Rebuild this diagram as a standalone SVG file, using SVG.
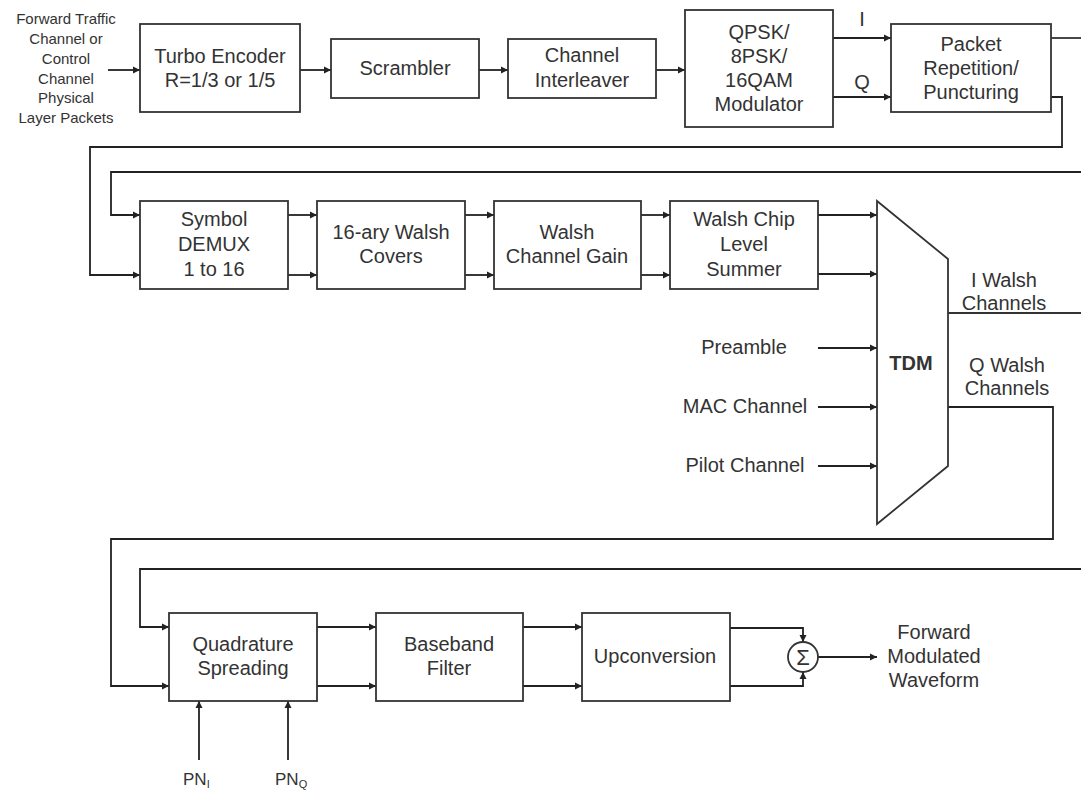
<svg xmlns="http://www.w3.org/2000/svg" width="1081" height="796" viewBox="0 0 1081 796">
<defs>
<marker id="ah" viewBox="0 0 10 10" refX="10" refY="5" markerWidth="7" markerHeight="8" markerUnits="userSpaceOnUse" orient="auto">
<path d="M0,0 L10,5 L0,10 Z" fill="#222"/>
</marker>
<style>
.box{fill:#fff;stroke:#333;stroke-width:1.8}
.ln{fill:none;stroke:#333;stroke-width:1.8}
.ar{fill:none;stroke:#222;stroke-width:1.8;marker-end:url(#ah)}
text{font-family:"Liberation Sans",Arial,sans-serif;fill:#333;text-anchor:middle}
.t{font-size:20px}
.s{font-size:15px}
</style>
</defs>
<rect width="1081" height="796" fill="#fff"/>

<g id="connectors">
<path class="ar" d="M108,70 H140"/>
<path class="ar" d="M300,70 H331"/>
<path class="ar" d="M479,70 H508"/>
<path class="ar" d="M656,70 H685"/>
<path class="ar" d="M833,38 H891"/>
<path class="ar" d="M833,97 H891"/>
<path class="ln" d="M1051,38 H1081"/>
<path class="ar" d="M1051,97 H1062 V147 H90 V275 H140"/>
<path class="ar" d="M1081,172 H111 V215 H140"/>
<path class="ar" d="M288,215 H317"/>
<path class="ar" d="M288,275 H317"/>
<path class="ar" d="M465,215 H494"/>
<path class="ar" d="M465,275 H494"/>
<path class="ar" d="M641,215 H670"/>
<path class="ar" d="M641,275 H670"/>
<path class="ar" d="M818,215 H877"/>
<path class="ar" d="M818,274 H877"/>
<path class="ar" d="M818,348 H877"/>
<path class="ar" d="M818,407 H877"/>
<path class="ar" d="M818,466 H877"/>
<path class="ln" d="M948,313 H1081"/>
<path class="ar" d="M948,407 H1053 V539 H111 V686 H169"/>
<path class="ar" d="M1081,569 H140 V627 H169"/>
<path class="ar" d="M317,627 H376"/>
<path class="ar" d="M317,686 H376"/>
<path class="ar" d="M523,627 H582"/>
<path class="ar" d="M523,686 H582"/>
<path class="ar" d="M730,628 H803 V642"/>
<path class="ar" d="M730,686 H803 V672"/>
<path class="ar" d="M818,657 H877"/>
<path class="ar" d="M199,760 V701"/>
<path class="ar" d="M288,760 V701"/>
</g>

<g id="input-label">
<text class="s" x="66" y="24">Forward Traffic</text>
<text class="s" x="66" y="44">Channel or</text>
<text class="s" x="66" y="64">Control</text>
<text class="s" x="66" y="84">Channel</text>
<text class="s" x="66" y="103">Physical</text>
<text class="s" x="66" y="123">Layer Packets</text>
</g>

<g id="turbo-encoder">
<rect class="box" x="140" y="24" width="160" height="88"/>
<text class="t" x="220" y="63">Turbo Encoder</text>
<text class="t" x="220" y="87">R=1/3 or 1/5</text>
</g>

<g id="scrambler">
<rect class="box" x="331" y="39" width="148" height="59"/>
<text class="t" x="405" y="75">Scrambler</text>
</g>

<g id="channel-interleaver">
<rect class="box" x="508" y="39" width="148" height="59"/>
<text class="t" x="582" y="62">Channel</text>
<text class="t" x="582" y="87">Interleaver</text>
</g>

<g id="modulator">
<rect class="box" x="685" y="10" width="148" height="117"/>
<text class="t" x="759" y="39">QPSK/</text>
<text class="t" x="759" y="63">8PSK/</text>
<text class="t" x="759" y="87">16QAM</text>
<text class="t" x="759" y="111">Modulator</text>
<text class="t" x="862" y="26">I</text>
<text class="t" x="862" y="89">Q</text>
</g>

<g id="packet-repetition">
<rect class="box" x="891" y="24" width="160" height="88"/>
<text class="t" x="971" y="51">Packet</text>
<text class="t" x="971" y="75">Repetition/</text>
<text class="t" x="971" y="99">Puncturing</text>
</g>

<g id="symbol-demux">
<rect class="box" x="140" y="201" width="148" height="88"/>
<text class="t" x="214" y="226">Symbol</text>
<text class="t" x="214" y="251">DEMUX</text>
<text class="t" x="214" y="276">1 to 16</text>
</g>

<g id="walsh-covers">
<rect class="box" x="317" y="201" width="148" height="88"/>
<text class="t" x="391" y="239">16-ary Walsh</text>
<text class="t" x="391" y="263">Covers</text>
</g>

<g id="walsh-gain">
<rect class="box" x="494" y="201" width="147" height="88"/>
<text class="t" x="567" y="239">Walsh</text>
<text class="t" x="567" y="263">Channel Gain</text>
</g>

<g id="walsh-summer">
<rect class="box" x="670" y="201" width="148" height="88"/>
<text class="t" x="744" y="226">Walsh Chip</text>
<text class="t" x="744" y="251">Level</text>
<text class="t" x="744" y="276">Summer</text>
</g>

<g id="tdm">
<path class="box" d="M877,201 L948,259 L948,466 L877,524 Z"/>
<text class="t" x="911" y="370" style="font-weight:bold">TDM</text>
<text class="t" x="1004" y="287">I Walsh</text>
<text class="t" x="1004" y="310">Channels</text>
<text class="t" x="1007" y="372">Q Walsh</text>
<text class="t" x="1007" y="395">Channels</text>
</g>

<g id="preamble"><text class="t" x="744" y="354">Preamble</text></g>
<g id="mac-channel"><text class="t" x="745" y="413">MAC Channel</text></g>
<g id="pilot-channel"><text class="t" x="745" y="472">Pilot Channel</text></g>

<g id="quadrature-spreading">
<rect class="box" x="169" y="613" width="148" height="88"/>
<text class="t" x="243" y="651">Quadrature</text>
<text class="t" x="243" y="675">Spreading</text>
</g>

<g id="baseband-filter">
<rect class="box" x="376" y="613" width="147" height="88"/>
<text class="t" x="449" y="651">Baseband</text>
<text class="t" x="449" y="675">Filter</text>
</g>

<g id="upconversion">
<rect class="box" x="582" y="613" width="148" height="88"/>
<text class="t" x="655" y="663">Upconversion</text>
</g>

<g id="summer">
<circle cx="803" cy="657" r="15" fill="#fff" stroke="#333" stroke-width="1.8"/>
<text x="803" y="665" style="font-size:22px">Σ</text>
</g>

<g id="output-label">
<text class="t" x="934" y="639">Forward</text>
<text class="t" x="934" y="663">Modulated</text>
<text class="t" x="934" y="687">Waveform</text>
</g>

<g id="pn-i"><text x="183" y="785" style="font-size:17px;text-anchor:start">PN<tspan style="font-size:11px" dy="3">I</tspan></text></g>
<g id="pn-q"><text x="275" y="785" style="font-size:17px;text-anchor:start">PN<tspan style="font-size:11px" dy="3">Q</tspan></text></g>
</svg>
